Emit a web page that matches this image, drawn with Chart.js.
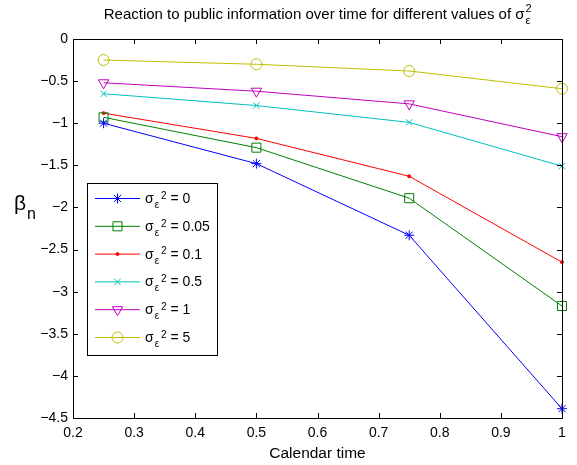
<!DOCTYPE html>
<html>
<head>
<meta charset="utf-8">
<script src="https://cdn.jsdelivr.net/npm/chart.js@4.4.1/dist/chart.umd.min.js"></script>
<style>
  html, body { margin: 0; padding: 0; background: #fff; }
  #wrap { width: 577px; height: 465px; }
</style>
</head>
<body>
<div id="wrap"><canvas id="chart" width="577" height="465"></canvas></div>
<script>
// data
const calendarTime = [0.25, 0.5, 0.75, 1];
const sigmaValues = ['0', '0.05', '0.1', '0.5', '1', '5'];
const betaSigma0    = [-1.00, -1.48, -2.33, -4.39];
const betaSigma005  = [-0.93, -1.29, -1.89, -3.17];
const betaSigma01   = [-0.88, -1.18, -1.63, -2.65];
const betaSigma05   = [-0.65, -0.79, -0.99, -1.51];
const betaSigma1    = [-0.52, -0.62, -0.77, -1.16];
const betaSigma5    = [-0.25, -0.30, -0.38, -0.59];
const xTicks = [0.2, 0.3, 0.4, 0.5, 0.6, 0.7, 0.8, 0.9, 1];
const yTicks = [0, -0.5, -1, -1.5, -2, -2.5, -3, -3.5, -4, -4.5];

const FONT = '"Liberation Sans", Arial, Helvetica, sans-serif';

// matlab-ish line styles
const styles = [
  { color: '#0000ff', point: 'star',     radius: 5,   rot: 0 },
  { color: '#008000', point: 'rect',     radius: 6.4, rot: 0 },
  { color: '#ff0000', point: 'circle',   radius: 1.5, rot: 0, fill: true },
  { color: '#00bfbf', point: 'crossRot', radius: 4.5, rot: 0 },
  { color: '#bf00bf', point: 'triangle', radius: 6,   rot: 180 },
  { color: '#bfbf00', point: 'circle',   radius: 5.5, rot: 0 }
];
const series = [betaSigma0, betaSigma005, betaSigma01, betaSigma05, betaSigma1, betaSigma5];

function pts(vals){ return calendarTime.map((t, i) => ({ x: t, y: vals[i] })); }

const datasets = series.map((vals, i) => {
  const s = styles[i];
  return {
    label: sigmaValues[i],
    data: pts(vals),
    borderColor: s.color,
    backgroundColor: s.fill ? s.color : 'rgba(0,0,0,0)',
    borderWidth: 1,
    pointStyle: s.point,
    pointRadius: s.radius,
    pointRotation: s.rot,
    pointBorderWidth: 1,
    pointBorderColor: s.color,
    pointBackgroundColor: s.fill ? s.color : 'rgba(0,0,0,0)',
    tension: 0,
    clip: false
  };
});

// draw "σ" + sub ε + sup 2 ; stacked = sub and sup at same x
function drawSigma(ctx, x, y, size, stacked){
  ctx.font = size + 'px ' + FONT;
  ctx.fillText('σ', x, y);
  let w = ctx.measureText('σ').width;
  const small = Math.round(size * 0.7);
  ctx.font = small + 'px ' + FONT;
  ctx.fillText('ε', x + w + 1, y + size * 0.35);
  const we = ctx.measureText('ε').width;
  if (stacked) {
    ctx.fillText('2', x + w + 1, y - size * 0.45);
    return w + 1 + Math.max(we, ctx.measureText('2').width);
  }
  ctx.fillText('2', x + w + we + 3, y - size * 0.3);
  return w + we + 3 + ctx.measureText('2').width;
}

const framePlugin = {
  id: 'frame',
  afterDatasetsDraw(chart){
    const { ctx, chartArea: a, scales } = chart;
    ctx.save();
    ctx.strokeStyle = '#000';
    ctx.lineWidth = 1;
    ctx.strokeRect(Math.round(a.left) + 0.5, Math.round(a.top) + 0.5,
                   Math.round(a.right - a.left), Math.round(a.bottom - a.top));
    const tl = 5;
    ctx.beginPath();
    xTicks.forEach(v => {
      const px = Math.round(scales.x.getPixelForValue(v)) + 0.5;
      ctx.moveTo(px, a.bottom); ctx.lineTo(px, a.bottom - tl);
      ctx.moveTo(px, a.top); ctx.lineTo(px, a.top + tl);
    });
    yTicks.forEach(v => {
      const py = Math.round(scales.y.getPixelForValue(v)) + 0.5;
      ctx.moveTo(a.left, py); ctx.lineTo(a.left + tl, py);
      ctx.moveTo(a.right, py); ctx.lineTo(a.right - tl, py);
    });
    ctx.stroke();

    // legend box
    const lx = 87, ly = 183, lw = 130, lh = 172, step = 27.8;
    ctx.fillStyle = '#fff';
    ctx.fillRect(lx, ly, lw, lh);
    ctx.strokeRect(lx + 0.5, ly + 0.5, lw, lh);
    chart.data.datasets.forEach((ds, i) => {
      const y = ly + 15 + i * step;
      ctx.strokeStyle = ds.borderColor;
      ctx.lineWidth = 1;
      ctx.beginPath();
      ctx.moveTo(lx + 8, y + 0.5); ctx.lineTo(lx + 53, y + 0.5);
      ctx.stroke();
      ctx.fillStyle = ds.pointBackgroundColor;
      Chart.helpers.drawPoint(ctx, {
        pointStyle: ds.pointStyle, radius: ds.pointRadius,
        rotation: ds.pointRotation, borderWidth: 1
      }, lx + 30.5, y + 0.5);
      ctx.fillStyle = '#000';
      ctx.textAlign = 'left';
      ctx.textBaseline = 'alphabetic';
      const tx = lx + 58, by = y + 5;
      const w = drawSigma(ctx, tx, by, 14, false);
      ctx.font = '14px ' + FONT;
      ctx.fillText(' = ' + ds.label, tx + w, by);
    });
    ctx.restore();
  },
  afterDraw(chart){
    const { ctx, chartArea: a } = chart;
    ctx.save();
    ctx.fillStyle = '#000';
    ctx.textBaseline = 'alphabetic';
    ctx.textAlign = 'left';
    // title
    const title = 'Reaction to public information over time for different values of ';
    ctx.font = '15px ' + FONT;
    const tw = ctx.measureText(title).width + 16;
    const cx = (a.left + a.right) / 2;
    const tx = cx - tw / 2;
    ctx.fillText(title, tx, 19);
    drawSigma(ctx, tx + ctx.measureText(title).width, 19, 15, true);
    // x label
    ctx.font = '15.5px ' + FONT;
    ctx.textAlign = 'center';
    ctx.fillText('Calendar time', cx, 458);
    // y label
    ctx.textAlign = 'left';
    ctx.font = '21px ' + FONT;
    ctx.fillText('β', 14, 210);
    const bw = ctx.measureText('β').width;
    ctx.font = '16px ' + FONT;
    ctx.fillText('n', 14 + bw + 1, 219);
    ctx.restore();
  }
};

new Chart(document.getElementById('chart'), {
  type: 'line',
  data: { datasets },
  options: {
    responsive: false,
    animation: false,
    devicePixelRatio: 1,
    layout: { padding: { top: 39, right: 15, left: 0, bottom: 0 } },
    plugins: { legend: { display: false }, title: { display: false }, tooltip: { enabled: false } },
    scales: {
      x: {
        type: 'linear', min: 0.2, max: 1,
        afterFit: s => { s.height = 47; },
        afterBuildTicks: s => { s.ticks = xTicks.map(v => ({ value: v })); },
        grid: { display: false, drawTicks: false },
        border: { display: false },
        ticks: {
          padding: 7, color: '#000', maxRotation: 0, autoSkip: false,
          font: { family: FONT, size: 14 },
          callback: v => String(Math.round(v * 10) / 10)
        }
      },
      y: {
        type: 'linear', min: -4.5, max: 0,
        afterFit: s => { s.width = 73; },
        afterBuildTicks: s => { s.ticks = yTicks.map(v => ({ value: v })); },
        grid: { display: false, drawTicks: false },
        border: { display: false },
        ticks: {
          padding: 5, color: '#000', autoSkip: false,
          font: { family: FONT, size: 14 },
          callback: v => String(Math.round(v * 10) / 10).replace('-', '\u2212')
        }
      }
    }
  },
  plugins: [framePlugin]
});
</script>
</body>
</html>
